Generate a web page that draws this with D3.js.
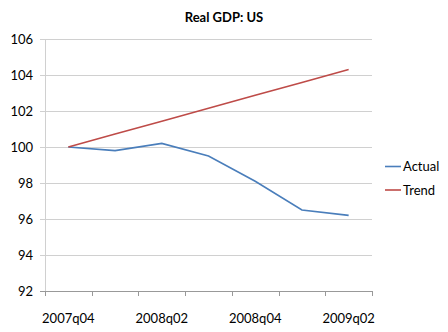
<!DOCTYPE html>
<html><head><meta charset="utf-8">
<script src="https://cdn.jsdelivr.net/npm/d3@7"></script>
<style>body{margin:0;background:#fff}svg{display:block}text{font-family:Lato,"Open Sans",sans-serif}</style>
</head><body>
<script>
const categories = ["2007q04","2008q01","2008q02","2008q03","2008q04","2009q01","2009q02"];
const actual = [100, 99.8, 100.2, 99.5, 98.1, 96.5, 96.2];
const trend = [100, 100.72, 101.43, 102.15, 102.87, 103.58, 104.3];
const yTicks = [92, 94, 96, 98, 100, 102, 104, 106];
const seriesNames = ["Actual", "Trend"];
const colors = ["#4a7ebb", "#be4b48"];

const W = 448, H = 332;
const svg = d3.select("body").append("svg").attr("width", W).attr("height", H);
const x = d3.scaleBand().domain(categories).range([45, 372]);
const y = d3.scaleLinear().domain([92, 106]).range([291, 39]);

// gridlines
svg.append("g").selectAll("line").data(yTicks).join("line")
  .attr("x1", 40).attr("x2", 372)
  .attr("y1", d => y(d) + 0.5).attr("y2", d => y(d) + 0.5)
  .attr("stroke", d => d === 92 ? "#999" : "#d0d0d0").attr("stroke-width", 1);
// y axis line
svg.append("line").attr("x1", 45.5).attr("x2", 45.5).attr("y1", y(106)).attr("y2", y(92))
  .attr("stroke", "#d0d0d0");
// y labels
svg.append("g").selectAll("text").data(yTicks).join("text")
  .attr("x", 33).attr("y", d => y(d)).attr("dy", "0.35em")
  .attr("text-anchor", "end").attr("font-size", 13).attr("fill", "#000").text(d => d);
// x ticks
const xt = d3.range(categories.length + 1).map(i => 45 + i * x.step());
svg.append("g").selectAll("line").data(xt).join("line")
  .attr("x1", d => Math.round(d) + 0.5).attr("x2", d => Math.round(d) + 0.5)
  .attr("y1", y(92)).attr("y2", y(92) + 5).attr("stroke", "#999");
// x labels
svg.append("g").selectAll("text").data(categories.filter((c, i) => i % 2 === 0)).join("text")
  .attr("x", d => x(d) + x.bandwidth() / 2).attr("y", 318).attr("dy", "0.35em")
  .attr("text-anchor", "middle").attr("font-size", 13).attr("fill", "#000").text(d => d);

// lines
const line = d3.line().x((d, i) => x(categories[i]) + x.bandwidth() / 2).y(d => y(d));
[actual, trend].forEach((s, k) => {
  svg.append("path").datum(s).attr("d", line).attr("fill", "none")
    .attr("stroke", colors[k]).attr("stroke-width", 1.6);
});

// title
svg.append("text").attr("x", 224).attr("y", 17).attr("dy", "0.35em").attr("text-anchor", "middle")
  .attr("font-size", 13).attr("font-weight", "bold").text("Real GDP: US");

// legend
seriesNames.forEach((n, k) => {
  const ly = 166.5 + k * 23.5;
  svg.append("line").attr("x1", 385).attr("x2", 401).attr("y1", ly).attr("y2", ly)
    .attr("stroke", colors[k]).attr("stroke-width", 1.6);
  svg.append("text").attr("x", 403).attr("y", ly).attr("dy", "0.35em")
    .attr("font-size", 13).text(n);
});
</script>
</body></html>
